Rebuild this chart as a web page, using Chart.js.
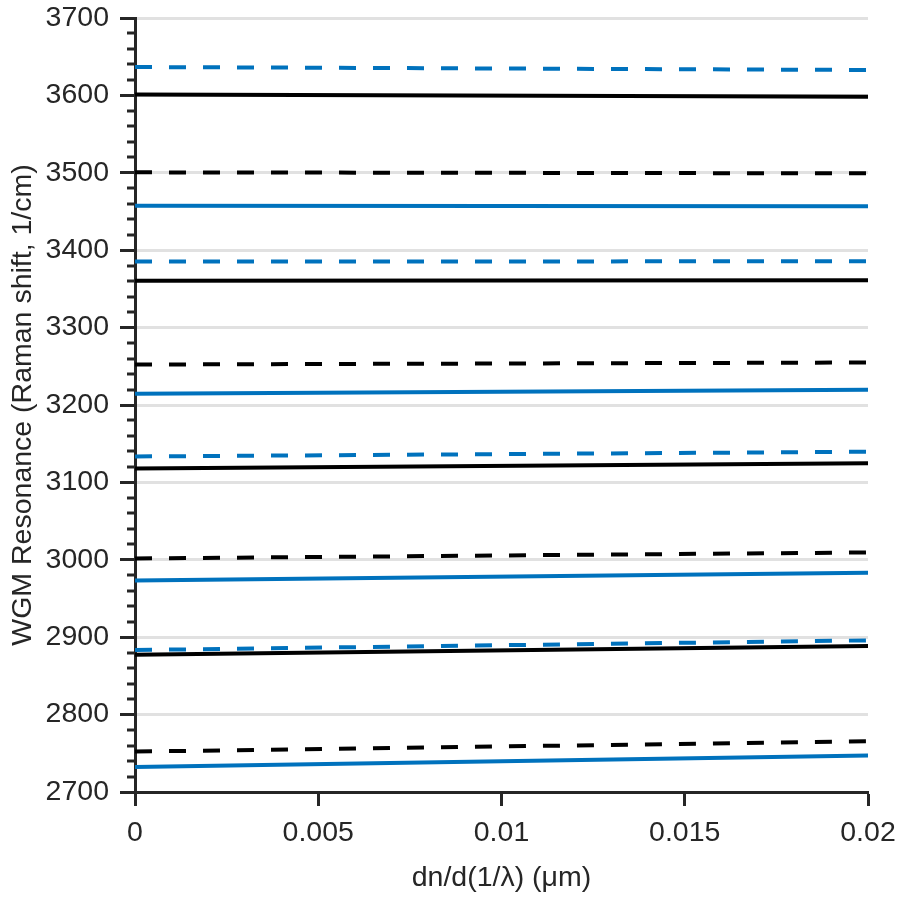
<!DOCTYPE html>
<html>
<head>
<meta charset="utf-8">
<script src="https://cdn.jsdelivr.net/npm/chart.js@4/dist/chart.umd.min.js"></script>
<style>
  body { margin: 0; background: #fff; }
  canvas { display: block; }
</style>
</head>
<body>
<canvas id="wgm-chart" width="900" height="897"></canvas>
<script>
// x range of every line (dn/d(1/lambda), um)
const xValues = [0, 0.02];
const xTicks = [0, 0.005, 0.01, 0.015, 0.02];
const yTicks = [2700, 2800, 2900, 3000, 3100, 3200, 3300, 3400, 3500, 3600, 3700];
const yMinorStep = 20;

// [value at x=0, value at x=0.02] for each resonance
const blueDashed = [[3636.7, 3632.8], [3385.3, 3385.7], [3133.5, 3139.6], [2883.4, 2895.9]];
const blackSolid = [[3601.3, 3598.4], [3360.5, 3361.2], [3118, 3124.9], [2877.4, 2888.5]];
const blackDashed = [[3500.6, 3499.3], [3252.3, 3254.9], [3001.7, 3009.5], [2752.2, 2765.5]];
const blueSolid = [[3457.5, 3456.7], [3214.4, 3219.6], [2973.3, 2983.3], [2732.3, 2747]];

const BLUE = "#0072BD";
const BLACK = "#000000";
const AXIS = "#262626";
const FONT = { family: "Liberation Sans", size: 28.5 };

function makeSets(list, color, dashed) {
  return list.map((pair) => ({
    data: pair.map((y, i) => ({ x: xValues[i], y: y })),
    borderColor: color,
    borderWidth: 4,
    borderDash: dashed ? [17, 17] : [],
    pointRadius: 0,
    fill: false,
  }));
}

const datasets = []
  .concat(makeSets(blackSolid, BLACK, false))
  .concat(makeSets(blackDashed, BLACK, true))
  .concat(makeSets(blueSolid, BLUE, false))
  .concat(makeSets(blueDashed, BLUE, true));

// short minor ticks on the y axis (every 20)
const minorTicks = {
  id: "minorTicks",
  afterDraw(chart) {
    const ys = chart.scales.y;
    const ctx = chart.ctx;
    const x0 = chart.chartArea.left;
    ctx.save();
    ctx.strokeStyle = AXIS;
    ctx.lineWidth = 3;
    for (let v = ys.min; v <= ys.max; v += yMinorStep) {
      if (v % 100 === 0) continue;
      const py = Math.round(ys.getPixelForValue(v));
      ctx.beginPath();
      ctx.moveTo(x0 - 8, py);
      ctx.lineTo(x0, py);
      ctx.stroke();
    }
    ctx.restore();
  },
};

const ctx = document.querySelector("#wgm-chart").getContext("2d");
const myChart = new Chart(ctx, {
  type: "line",
  data: { datasets: datasets },
  options: {
    responsive: false,
    animation: false,
    layout: { padding: { top: 18, right: 32, left: 0, bottom: 0 } },
    plugins: { legend: { display: false }, tooltip: { enabled: false } },
    scales: {
      x: {
        type: "linear",
        min: xTicks[0],
        max: xTicks[xTicks.length - 1],
        afterBuildTicks: (scale) => {
          scale.ticks = xTicks.map((v) => ({ value: v }));
        },
        afterFit: (scale) => {
          scale.height = 105;
          scale.paddingLeft = 0;
          scale.paddingRight = 0;
        },
        grid: {
          drawOnChartArea: false,
          drawTicks: true,
          tickLength: 14,
          tickWidth: 3,
          tickColor: AXIS,
        },
        border: { display: true, color: AXIS, width: 3 },
        ticks: {
          color: AXIS,
          padding: 10,
          maxRotation: 0,
          font: FONT,
          callback: (v) => String(v),
        },
        title: {
          display: true,
          text: "dn/d(1/λ) (μm)",
          color: AXIS,
          padding: { top: 0, bottom: 2 },
          font: FONT,
        },
      },
      y: {
        type: "linear",
        min: yTicks[0],
        max: yTicks[yTicks.length - 1],
        afterBuildTicks: (scale) => {
          scale.ticks = yTicks.map((v) => ({ value: v }));
        },
        afterFit: (scale) => {
          scale.width = 135;
          scale.paddingTop = 0;
          scale.paddingBottom = 0;
        },
        grid: {
          color: "#e1e1e1",
          lineWidth: 3,
          drawTicks: true,
          tickLength: 15,
          tickWidth: 3,
          tickColor: AXIS,
        },
        border: { display: true, color: AXIS, width: 3 },
        ticks: {
          color: AXIS,
          padding: 11,
          font: FONT,
          callback: (v) => String(v),
        },
        title: {
          display: true,
          text: "WGM Resonance (Raman shift, 1/cm)",
          color: AXIS,
          padding: { top: 6, bottom: 0 },
          font: FONT,
        },
      },
    },
  },
  plugins: [minorTicks],
});
</script>
</body>
</html>
